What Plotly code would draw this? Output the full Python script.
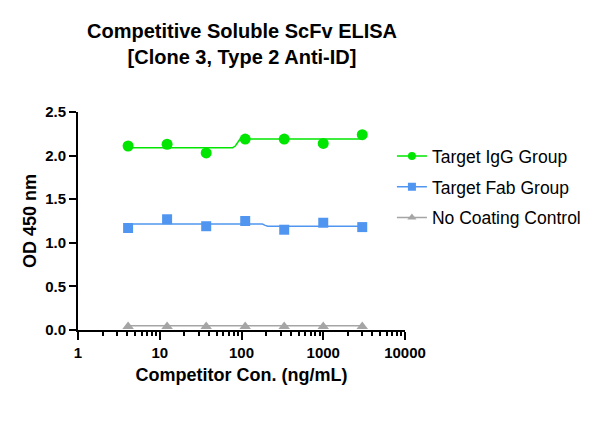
import plotly.graph_objects as go

# competitor concentrations (ng/mL), 3-fold dilutions
conc = [4.1, 12.3, 37, 111, 333, 1000, 3000]

igg_od = [2.11, 2.13, 2.03, 2.19, 2.19, 2.14, 2.24]
fab_od = [1.17, 1.27, 1.19, 1.25, 1.15, 1.23, 1.18]
ctrl_od = [0.04, 0.04, 0.04, 0.04, 0.04, 0.04, 0.04]

# fitted curves
igg_fit_x = [4.1, 78, 84, 90, 96, 3000]
igg_fit_y = [2.09, 2.09, 2.11, 2.16, 2.19, 2.19]
fab_fit_x = [4.1, 180, 195, 210, 3000]
fab_fit_y = [1.215, 1.215, 1.20, 1.19, 1.19]
ctrl_fit_x = [4.1, 3000]
ctrl_fit_y = [0.05, 0.05]

x_major = [1, 10, 100, 1000, 10000]
x_labels = ['1', '10', '100', '1000', '10000']
x_minor = [m * d for d in [1, 10, 100, 1000] for m in range(2, 10)]
y_major = [0, 0.5, 1.0, 1.5, 2.0, 2.5]
y_labels = ['0.0', '0.5', '1.0', '1.5', '2.0', '2.5']

GREEN = 'rgb(0,230,0)'
BLUE = 'rgb(80,150,240)'
GRAY = 'rgb(165,165,165)'
FONT = 'Arial, Liberation Sans'

series = [
    ('Target IgG Group', igg_od, igg_fit_x, igg_fit_y, GREEN, 'circle', 11),
    ('Target Fab Group', fab_od, fab_fit_x, fab_fit_y, BLUE, 'square', 10),
    ('No Coating Control', ctrl_od, ctrl_fit_x, ctrl_fit_y, GRAY, 'triangle-up', 10),
]

fig = go.Figure()

# invisible trace on an overlay axis, used only for the minor x ticks
fig.add_trace(go.Scatter(x=conc, y=igg_od, xaxis='x2', mode='markers',
                         marker=dict(opacity=0), showlegend=False, hoverinfo='skip'))

for name, od, fx, fy, color, symbol, size in series:
    # fitted line
    fig.add_trace(go.Scatter(x=fx, y=fy, mode='lines', line=dict(color=color, width=1.5),
                             showlegend=False, hoverinfo='skip'))
    # measured points
    fig.add_trace(go.Scatter(x=conc, y=od, mode='markers', name=name, showlegend=False,
                             marker=dict(color=color, symbol=symbol, size=size)))
# legend entries with line + marker
for name, od, fx, fy, color, symbol, size in series:
    fig.add_trace(go.Scatter(x=[None], y=[None], mode='lines+markers', name=name, legendgroup=name,
                             line=dict(color=color, width=1.5),
                             marker=dict(color=color, symbol=symbol, size=8)))

fig.update_layout(
    xaxis=dict(type='log', range=[0, 4], tickmode='array', tickvals=x_major,
               ticktext=['<b>%s</b>' % t for t in x_labels],
               ticks='outside', ticklen=8, tickwidth=2, tickcolor='black',
               showline=True, linewidth=2, linecolor='black', showgrid=False, zeroline=False,
               tickfont=dict(family=FONT, size=15, color='black'),
               title=dict(text='<b>Competitor Con. (ng/mL)</b>',
                          font=dict(family=FONT, size=18, color='black'), standoff=8)),
    xaxis2=dict(type='log', range=[0, 4], overlaying='x', anchor='y', side='bottom',
                tickmode='array', tickvals=x_minor, showticklabels=False,
                ticks='outside', ticklen=5, tickwidth=2, tickcolor='black',
                showline=False, showgrid=False, zeroline=False),
    yaxis=dict(range=[0, 2.5], tickmode='array', tickvals=y_major,
               ticktext=['<b>%s</b>' % t for t in y_labels],
               ticks='outside', ticklen=7, tickwidth=2, tickcolor='black',
               showline=True, linewidth=2, linecolor='black', showgrid=False, zeroline=False,
               tickfont=dict(family=FONT, size=15, color='black'),
               title=dict(text='<b>OD 450 nm</b>',
                          font=dict(family=FONT, size=18, color='black'), standoff=4)),
    width=600, height=427,
    plot_bgcolor='white', paper_bgcolor='white',
    margin=dict(l=70, r=203, t=104, b=105),
    title=dict(text='<b>Competitive Soluble ScFv ELISA<br>[Clone 3, Type 2 Anti-ID]</b>',
               x=0.39, xanchor='center', y=0.929, yanchor='top',
               font=dict(family=FONT, size=20, color='black')),
    legend=dict(x=0.96, y=0.88, xanchor='left', yanchor='top',
                font=dict(family=FONT, size=17.5, color='black'),
                tracegroupgap=5, itemwidth=30),
    showlegend=True,
)

fig.write_html('out.html')
